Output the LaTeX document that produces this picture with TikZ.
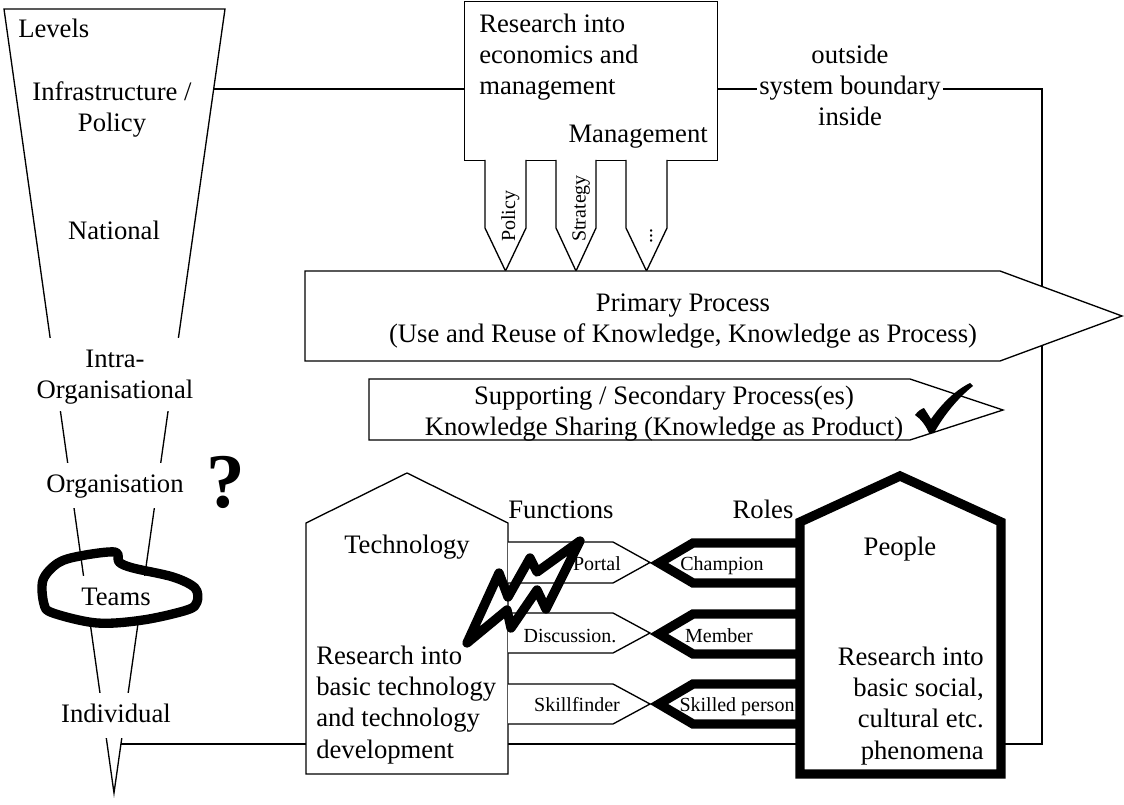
\documentclass[tikz,border=0pt]{standalone}
\usepackage{fontspec}
\setmainfont{Liberation Serif}
\newcommand{\fmain}{\fontsize{20pt}{23.5pt}\selectfont}
\newcommand{\fsmall}{\fontsize{15pt}{18pt}\selectfont}
\begin{document}
\begin{tikzpicture}[x=0.75pt,y=-0.75pt,
  thinline/.style={line width=1pt, draw=black},
  thickline/.style={line width=7pt, draw=black},
  txt/.style={inner sep=0pt, font=\fmain},
  stxt/.style={inner sep=0pt, font=\fsmall},
  gapst/.style={txt, fill=white, inner xsep=2pt, inner ysep=5.25pt},
  boxst/.style={thinline, fill=white, inner sep=0pt},
  figst/.style={thinline, fill=white}]
\useasboundingbox (0,0) rectangle (1124,805);

% funnel of levels
\coordinate (fT1) at (4,9);
\coordinate (fT2) at (225,9);
\coordinate (fA) at (114,793);
\draw[thinline] (fT1) -- (fT2) -- (fA) -- cycle;

% system boundary
\coordinate (bA) at (213.7,89);
\coordinate (bB) at (120.9,744);
\coordinate (c1) at (1042,89);
\coordinate (c2) at (1042,744);
\node[boxst, draw, minimum width=189.75pt, minimum height=119.25pt, anchor=north west] (rb) at (464,1) {};
\node[txt, align=center, anchor=north, fill=white, inner xsep=1.5pt] (sb) at (850,41.07) {\strut outside\\system boundary\\inside};
\draw[thinline] (bA) -- (bA -| rb.west);
\draw[thinline] (bA -| rb.east) -- (bA -| sb.west);
\draw[thinline] (bA -| sb.east) -- (c1) -- (c2) -- (bB);

% research box texts
\node[txt, align=left, anchor=north west] (rt) at (479,10.07) {\strut Research into\\economics and\\management};
\node[txt, anchor=base east] (mg) at (708,143) {Management};

% management pointers
\draw[figst] (485,160) -- (485,228) -- (505.5,271) -- (526,228) -- (526,160);
\draw[figst] (556,160) -- (556,228) -- (576,271) -- (596,228) -- (596,160);
\draw[figst] (626,160) -- (626,228) -- (646.5,271) -- (667,228) -- (667,160);
\node[stxt, rotate=90, anchor=base west] (pol) at (515,242) {Policy};
\node[stxt, rotate=90, anchor=base west] (str) at (585.5,242) {Strategy};
\node[stxt, rotate=90, anchor=base west] (dts) at (652,244) {...};

% primary process
\draw[figst] (305,271) -- (1000,271) -- (1122,316) -- (1000,361) -- (305,361) -- cycle;
\node[txt, align=center, anchor=north] (pp) at (683,289.07) {\strut Primary Process\\(Use and Reuse of Knowledge, Knowledge as Process)};

% secondary process
\draw[figst] (369,379) -- (910,379) -- (1003,410) -- (910,440) -- (369,440) -- cycle;
\node[txt, align=center, anchor=north] (sp) at (664,382.07) {\strut Supporting / Secondary Process(es)\\Knowledge Sharing (Knowledge as Product)};

% check mark
\fill[black] (915,415) .. controls (918,411) and (921,409) .. (924,408) -- (931,419)
  .. controls (943,402) and (956,390) .. (970,383) -- (973,386)
  .. controls (958,398) and (944,415) .. (934,433) -- (929,433)
  .. controls (926,426) and (921,419) .. (915,415) -- cycle;

% technology house
\draw[figst] (306,774) -- (306,523) -- (407,473) -- (508,523) -- (508,774) -- cycle;
\node[txt, anchor=base] (tech) at (407,553) {Technology};
\node[txt, align=left, anchor=north west] (techr) at (316,642.07) {\strut Research into\\basic technology\\and technology\\development};

% functions
\draw[figst] (508,542) -- (613,542) -- (650,562.5) -- (613,583) -- (508,583);
\draw[figst] (508,613) -- (613,613) -- (650,633) -- (613,653) -- (508,653);
\draw[figst] (508,684) -- (613,684) -- (650,704) -- (613,724) -- (508,724);
\node[txt, anchor=base] (fun) at (561,518) {Functions};

% roles
\draw[thickline, fill=white] (800,543) -- (693,543) -- (659,563) -- (693,583) -- (800,583);
\draw[thickline, fill=white] (800,614) -- (693,614) -- (659,634) -- (693,654) -- (800,654);
\draw[thickline, fill=white] (800,684) -- (693,684) -- (659,704) -- (693,724) -- (800,724);
\node[txt, anchor=base] (rol) at (763,518) {Roles};

% people house
\draw[thickline, fill=white] (800,774) -- (800,522) -- (900,476) -- (1001,522) -- (1001,774) -- cycle;
\node[txt, anchor=base] (ppl) at (900,555) {People};
\node[txt, align=right, anchor=north east] (pplr) at (984,643.07) {\strut Research into\\basic social,\\cultural etc.\\phenomena};

% function / role labels
\node[stxt, anchor=base] (por) at (597,570) {Portal};
\node[stxt, anchor=base] (dis) at (570,642) {Discussion.};
\node[stxt, anchor=base] (skf) at (577,711) {Skillfinder};
\node[stxt, anchor=base] (cha) at (722,570) {Champion};
\node[stxt, anchor=base] (mem) at (719,642) {Member};
\node[stxt, anchor=base] (skp) at (737,711) {Skilled person};

% lightning
\draw[thickline, line join=round, line cap=round] (467,643) -- (499,573) -- (508,597) -- (530,558) -- (537,572) -- (580,541) -- (546,609) -- (537,590) -- (511,628) -- (507,610) -- cycle;

% funnel labels
\node[txt, anchor=base west] (lv) at (18,38) {Levels};
\node[txt, align=center, anchor=north] (ip) at (112,78.07) {\strut Infrastructure /\\Policy};
\node[txt, anchor=base] (na) at (114,240) {National};
\node[gapst, align=center, anchor=north] (io) at (115,338.07) {\strut Intra-\\Organisational};
\node[gapst, anchor=base] (og) at (115,492) {\strut Organisation};
\node[gapst, anchor=base] (tm) at (116,605) {\strut Teams};
\node[gapst, anchor=base] (iv) at (116,722) {\strut Individual};

% teams blob
\draw[thickline, line join=round] plot[smooth cycle, tension=0.55] coordinates {(43,580) (58,563) (80,556) (115,552) (119,562) (133,568) (173,577) (195,588) (197,602) (187,610) (143,620) (97,623) (53,613) (44,604)};

% question mark
\node[inner sep=0pt, font=\fontsize{58pt}{60pt}\selectfont\bfseries, anchor=base] (qm) at (226,507) {?};
\end{tikzpicture}
\end{document}
